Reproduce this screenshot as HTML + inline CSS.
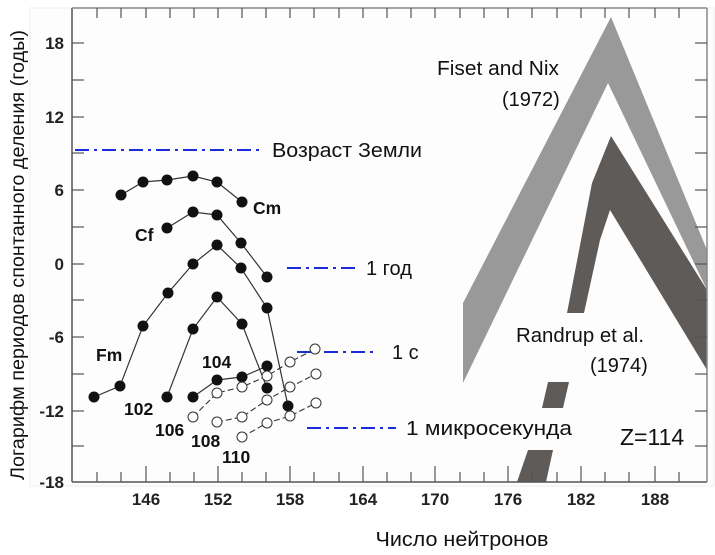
<!DOCTYPE html>
<html><head><meta charset="utf-8"><style>
html,body{margin:0;padding:0;background:#fff;}
svg{display:block;font-family:"Liberation Sans",sans-serif;}
</style></head><body>
<svg width="715" height="555" viewBox="0 0 715 555" xmlns="http://www.w3.org/2000/svg">
<rect x="30" y="8" width="684" height="478" fill="#fdfdfd" stroke="#eee"/>
<polygon points="463,303 611,17 707,250 707,290 608,83 463,383" fill="#999"/>
<polygon points="611,136 707,290 707,370 610,210 600,240 584,313 567,313 592,183" fill="#5f5b59"/>
<polygon points="548,382 569,382 563,408 542,408" fill="#5f5b59"/>
<polygon points="528,450 553,450 546,482 517,482" fill="#5f5b59"/>
<g stroke="#555" stroke-width="1.5" fill="none">
<line x1="72" y1="8" x2="72" y2="482"/>
<line x1="72" y1="482" x2="707" y2="482"/>
<line x1="707" y1="8" x2="707" y2="482" stroke="#888"/>
<line x1="72" y1="8" x2="707" y2="8" stroke="#888"/>
</g>
<g stroke="#555" stroke-width="1.2">
<line x1="72" y1="43" x2="84" y2="43"/><line x1="72" y1="80" x2="84" y2="80"/>
<line x1="72" y1="117" x2="84" y2="117"/><line x1="72" y1="153" x2="84" y2="153"/>
<line x1="72" y1="190" x2="84" y2="190"/><line x1="72" y1="227" x2="84" y2="227"/>
<line x1="72" y1="264" x2="84" y2="264"/><line x1="72" y1="300" x2="84" y2="300"/>
<line x1="72" y1="337" x2="84" y2="337"/><line x1="72" y1="374" x2="84" y2="374"/>
<line x1="72" y1="411" x2="84" y2="411"/><line x1="72" y1="446" x2="84" y2="446"/>
<line x1="695" y1="43" x2="707" y2="43"/><line x1="695" y1="80" x2="707" y2="80"/>
<line x1="695" y1="117" x2="707" y2="117"/><line x1="695" y1="153" x2="707" y2="153"/>
<line x1="695" y1="190" x2="707" y2="190"/><line x1="695" y1="227" x2="707" y2="227"/>
<line x1="695" y1="264" x2="707" y2="264"/><line x1="695" y1="300" x2="707" y2="300"/>
<line x1="695" y1="337" x2="707" y2="337"/><line x1="695" y1="374" x2="707" y2="374"/>
<line x1="695" y1="411" x2="707" y2="411"/><line x1="695" y1="446" x2="707" y2="446"/>
</g>
<g stroke="#555" stroke-width="1.2">
<line x1="97" y1="472" x2="97" y2="482"/><line x1="121" y1="472" x2="121" y2="482"/>
<line x1="146" y1="466" x2="146" y2="482"/><line x1="170" y1="472" x2="170" y2="482"/>
<line x1="194" y1="472" x2="194" y2="482"/><line x1="218" y1="466" x2="218" y2="482"/>
<line x1="242" y1="472" x2="242" y2="482"/><line x1="266" y1="472" x2="266" y2="482"/>
<line x1="290" y1="466" x2="290" y2="482"/><line x1="314" y1="472" x2="314" y2="482"/>
<line x1="339" y1="472" x2="339" y2="482"/><line x1="363" y1="466" x2="363" y2="482"/>
<line x1="387" y1="472" x2="387" y2="482"/><line x1="411" y1="472" x2="411" y2="482"/>
<line x1="435" y1="466" x2="435" y2="482"/><line x1="460" y1="472" x2="460" y2="482"/>
<line x1="484" y1="472" x2="484" y2="482"/><line x1="508" y1="466" x2="508" y2="482"/>
<line x1="532" y1="472" x2="532" y2="482"/><line x1="557" y1="472" x2="557" y2="482"/>
<line x1="581" y1="466" x2="581" y2="482"/><line x1="605" y1="472" x2="605" y2="482"/>
<line x1="629" y1="472" x2="629" y2="482"/><line x1="655" y1="466" x2="655" y2="482"/>
<line x1="679" y1="472" x2="679" y2="482"/>
<line x1="97" y1="8" x2="97" y2="18"/><line x1="121" y1="8" x2="121" y2="18"/>
<line x1="146" y1="8" x2="146" y2="18"/><line x1="170" y1="8" x2="170" y2="18"/>
<line x1="194" y1="8" x2="194" y2="18"/><line x1="218" y1="8" x2="218" y2="18"/>
<line x1="242" y1="8" x2="242" y2="18"/><line x1="266" y1="8" x2="266" y2="18"/>
<line x1="290" y1="8" x2="290" y2="18"/><line x1="314" y1="8" x2="314" y2="18"/>
<line x1="339" y1="8" x2="339" y2="18"/><line x1="363" y1="8" x2="363" y2="18"/>
<line x1="387" y1="8" x2="387" y2="18"/><line x1="411" y1="8" x2="411" y2="18"/>
<line x1="435" y1="8" x2="435" y2="18"/><line x1="460" y1="8" x2="460" y2="18"/>
<line x1="484" y1="8" x2="484" y2="18"/><line x1="508" y1="8" x2="508" y2="18"/>
<line x1="532" y1="8" x2="532" y2="18"/><line x1="557" y1="8" x2="557" y2="18"/>
<line x1="581" y1="8" x2="581" y2="18"/><line x1="605" y1="8" x2="605" y2="18"/>
<line x1="629" y1="8" x2="629" y2="18"/><line x1="655" y1="8" x2="655" y2="18"/>
<line x1="679" y1="8" x2="679" y2="18"/>
</g>
<g font-size="17" font-weight="bold" fill="#222" text-anchor="end">
<text x="64" y="49">18</text><text x="64" y="123">12</text><text x="64" y="196">6</text>
<text x="64" y="270">0</text><text x="64" y="343">-6</text><text x="64" y="417">-12</text><text x="64" y="488">-18</text>
</g>
<g font-size="17" font-weight="bold" fill="#222" text-anchor="middle">
<text x="146" y="505">146</text><text x="218" y="505">152</text><text x="290" y="505">158</text>
<text x="363" y="505">164</text><text x="435" y="505">170</text><text x="508" y="505">176</text>
<text x="581" y="505">182</text><text x="655" y="505">188</text>
</g>
<text x="462" y="546" font-size="20.5" fill="#111" text-anchor="middle" textLength="173" lengthAdjust="spacingAndGlyphs">Число нейтронов</text>
<text transform="translate(24,255) rotate(-90)" font-size="19.5" fill="#111" text-anchor="middle" textLength="450" lengthAdjust="spacingAndGlyphs">Логарифм периодов спонтанного деления (годы)</text>
<g stroke="#1a2bdc" stroke-width="2" stroke-dasharray="14,5,3,5">
<line x1="75" y1="150" x2="262" y2="150"/>
<line x1="287" y1="268" x2="356" y2="268"/>
<line x1="297" y1="352" x2="376" y2="352"/>
<line x1="307" y1="428" x2="396" y2="428"/>
</g>
<g font-size="20" fill="#111">
<text x="272" y="157" textLength="150" lengthAdjust="spacingAndGlyphs">Возраст Земли</text>
<text x="366" y="275">1 год</text>
<text x="392" y="359">1 с</text>
<text x="406" y="435" textLength="166" lengthAdjust="spacingAndGlyphs">1 микросекунда</text>
<text x="620" y="445" font-size="23">Z=114</text>
<text x="437" y="75" textLength="122" lengthAdjust="spacingAndGlyphs">Fiset and Nix</text>
<text x="502" y="106">(1972)</text>
<text x="516" y="342" textLength="128" lengthAdjust="spacingAndGlyphs">Randrup et al.</text>
<text x="590" y="372">(1974)</text>
</g>
<g stroke="#333" stroke-width="1.2" fill="none">
<polyline points="121,195 143,182 167,180 193,176 217,182 242,202"/>
<polyline points="167,228 193,212 217,215 241,243 267,277"/>
<polyline points="94,397 120,386 143,326 168,293 193,264 217,245 241,268 267,308 288,406"/>
<polyline points="167,397 193,329 217,297 242,324 267,388"/>
<polyline points="193,397 217,380 242,377 267,366"/>
</g>
<g stroke="#333" stroke-width="1.1" fill="none" stroke-dasharray="6,3">
<polyline points="193,417 217,393 242,387 267,376 290,362 315,349"/>
<polyline points="217,422 242,417 267,400 290,387 316,374"/>
<polyline points="242,437 267,423 290,416 316,403"/>
</g>
<g fill="#111">
<circle cx="121" cy="195" r="5.5"/><circle cx="143" cy="182" r="5.5"/><circle cx="167" cy="180" r="5.5"/><circle cx="193" cy="176" r="5.5"/><circle cx="217" cy="182" r="5.5"/><circle cx="242" cy="202" r="5.5"/>
<circle cx="167" cy="228" r="5.5"/><circle cx="193" cy="212" r="5.5"/><circle cx="217" cy="215" r="5.5"/><circle cx="241" cy="243" r="5.5"/><circle cx="267" cy="277" r="5.5"/>
<circle cx="94" cy="397" r="5.5"/><circle cx="120" cy="386" r="5.5"/><circle cx="143" cy="326" r="5.5"/><circle cx="168" cy="293" r="5.5"/><circle cx="193" cy="264" r="5.5"/><circle cx="217" cy="245" r="5.5"/><circle cx="241" cy="268" r="5.5"/><circle cx="267" cy="308" r="5.5"/><circle cx="288" cy="406" r="5.5"/>
<circle cx="167" cy="397" r="5.5"/><circle cx="193" cy="329" r="5.5"/><circle cx="217" cy="297" r="5.5"/><circle cx="242" cy="324" r="5.5"/><circle cx="267" cy="388" r="5.5"/>
<circle cx="193" cy="397" r="5.5"/><circle cx="217" cy="380" r="5.5"/><circle cx="242" cy="377" r="5.5"/><circle cx="267" cy="366" r="5.5"/>
</g>
<g fill="#fff" stroke="#333" stroke-width="1">
<circle cx="193" cy="417" r="5"/><circle cx="217" cy="393" r="5"/><circle cx="242" cy="387" r="5"/><circle cx="267" cy="376" r="5"/><circle cx="290" cy="362" r="5"/><circle cx="315" cy="349" r="5"/>
<circle cx="217" cy="422" r="5"/><circle cx="242" cy="417" r="5"/><circle cx="267" cy="400" r="5"/><circle cx="290" cy="387" r="5"/><circle cx="316" cy="374" r="5"/>
<circle cx="242" cy="437" r="5"/><circle cx="267" cy="423" r="5"/><circle cx="290" cy="416" r="5"/><circle cx="316" cy="403" r="5"/>
</g>
<g font-size="17.5" font-weight="bold" fill="#111">
<text x="253" y="214">Cm</text>
<text x="135" y="241">Cf</text>
<text x="96" y="361">Fm</text>
<text x="202" y="368">104</text>
<text x="124" y="415">102</text>
<text x="155" y="436">106</text>
<text x="191" y="447">108</text>
<text x="222" y="463">110</text>
</g>
</svg>
</body></html>
